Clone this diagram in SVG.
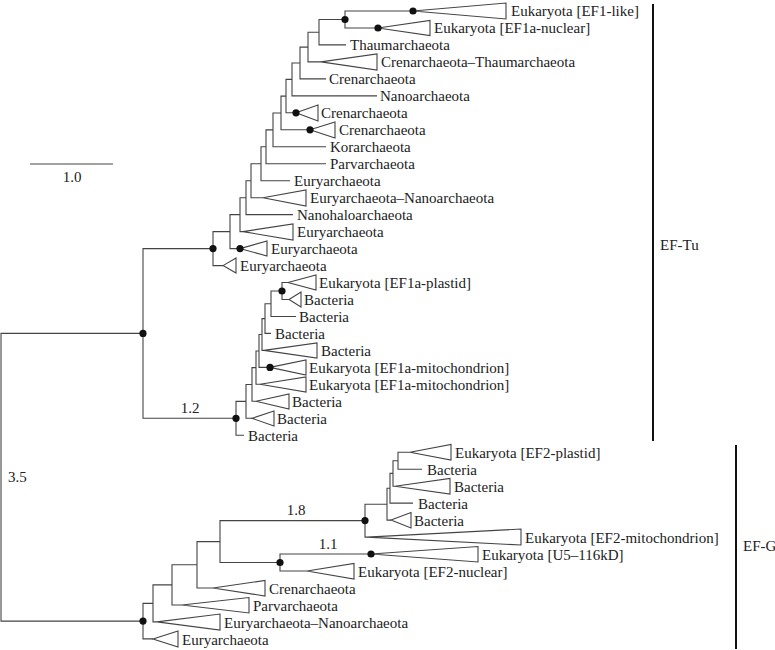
<svg xmlns="http://www.w3.org/2000/svg" width="775" height="650" viewBox="0 0 775 650">
<style>
  .e{fill:none;stroke:#444;stroke-width:1.1}
  .t{fill:#fff;stroke:#444;stroke-width:1.1}
  .d{fill:#111}
  text{font-family:"Liberation Serif","Times New Roman",serif;font-size:15px;fill:#222}
  .bar{stroke:#111;stroke-width:2}
</style>
<rect width="775" height="650" fill="#fff"/>
<g id="scale">
  <line x1="30" y1="164" x2="113" y2="164" class="e"/>
  <text x="72" y="182" text-anchor="middle">1.0</text>
</g>
<g id="connectors">
  <path class="e" d="M413 11H345V28H378"/>
  <path class="e" d="M345 19.5H319V44.9H346"/>
  <path class="e" d="M319 32.2H308V61.9H321"/>
  <path class="e" d="M308 47.1H300V78.9H326"/>
  <path class="e" d="M300 63H292V95.9H377"/>
  <path class="e" d="M292 79.4H286V112.8H296"/>
  <path class="e" d="M286 96.1H281V129.8H310"/>
  <path class="e" d="M281 113H273V146.8H326"/>
  <path class="e" d="M273 129.9H266V163.7H326"/>
  <path class="e" d="M266 146.8H261V180.7H290"/>
  <path class="e" d="M261 163.8H251V197.7H263"/>
  <path class="e" d="M251 180.7H246V214.6H293"/>
  <path class="e" d="M246 197.7H240V231.6H243"/>
  <path class="e" d="M240 214.6H230V248.6H240"/>
  <path class="e" d="M230 231.6H213V265.6H223"/>
  <path class="e" d="M288 282.5H282V299.5H289"/>
  <path class="e" d="M282 291H271V316.5H296"/>
  <path class="e" d="M271 303.7H265V333.4H271"/>
  <path class="e" d="M265 318.6H262V350.4H264"/>
  <path class="e" d="M262 334.5H259V367.4H270"/>
  <path class="e" d="M259 351H256V384.3H260"/>
  <path class="e" d="M256 367.6H252V401.3H256"/>
  <path class="e" d="M252 384.5H246V418.3H252"/>
  <path class="e" d="M246 401.4H236V435.3H244"/>
  <path class="e" d="M213 248.6H143V418.3H236"/>
  <path class="e" d="M410 452.2H398V469.2H422"/>
  <path class="e" d="M398 460.7H393V486.2H395"/>
  <path class="e" d="M393 473.4H390V503.1H413"/>
  <path class="e" d="M390 488.3H387V520.1H391"/>
  <path class="e" d="M387 504.2H365V537.1H367"/>
  <path class="e" d="M371 554H280V571H307"/>
  <path class="e" d="M365 520.6H220V562.5H280"/>
  <path class="e" d="M220 541.6H197V588H213"/>
  <path class="e" d="M197 564.8H172V605H182"/>
  <path class="e" d="M172 584.9H153V621.9H157"/>
  <path class="e" d="M153 603.4H143V638.9H153"/>
  <path class="e" d="M143 333.4H1V621.1H143"/>
</g>
<g id="branch-labels">
  <text x="190" y="413" text-anchor="middle">1.2</text>
  <text x="296" y="515" text-anchor="middle">1.8</text>
  <text x="328" y="549" text-anchor="middle">1.1</text>
  <text x="8" y="482">3.5</text>
</g>
<g id="nodes">
  <circle class="d" cx="345" cy="19.5" r="3.6"/>
  <circle class="d" cx="213" cy="248.6" r="3.6"/>
  <circle class="d" cx="143" cy="333.4" r="3.6"/>
  <circle class="d" cx="282" cy="291" r="3.6"/>
  <circle class="d" cx="236" cy="418.3" r="3.6"/>
  <circle class="d" cx="365" cy="520.6" r="3.6"/>
  <circle class="d" cx="280" cy="562.5" r="3.6"/>
  <circle class="d" cx="143" cy="621.1" r="3.6"/>
</g>
<g id="leaf1"><polygon class="t" points="413,11 506,3 506,19"/><circle class="d" cx="413" cy="11" r="3.6"/><text x="511" y="16">Eukaryota [EF1-like]</text></g>
<g id="leaf2"><polygon class="t" points="378,28 430,20.5 430,35.5"/><circle class="d" cx="378" cy="28" r="3.6"/><text x="434" y="33">Eukaryota [EF1a-nuclear]</text></g>
<g id="leaf3"><text x="350" y="50">Thaumarchaeota</text></g>
<g id="leaf4"><polygon class="t" points="321,61.9 377,54 377,70"/><text x="381" y="67">Crenarchaeota–Thaumarchaeota</text></g>
<g id="leaf5"><text x="329" y="84">Crenarchaeota</text></g>
<g id="leaf6"><text x="380" y="101">Nanoarchaeota</text></g>
<g id="leaf7"><polygon class="t" points="296,112.8 318,105 318,121"/><circle class="d" cx="296" cy="112.8" r="3.6"/><text x="321" y="118">Crenarchaeota</text></g>
<g id="leaf8"><polygon class="t" points="310,129.8 335,122 335,138"/><circle class="d" cx="310" cy="129.8" r="3.6"/><text x="339" y="135">Crenarchaeota</text></g>
<g id="leaf9"><text x="330" y="152">Korarchaeota</text></g>
<g id="leaf10"><text x="330" y="169">Parvarchaeota</text></g>
<g id="leaf11"><text x="294" y="186">Euryarchaeota</text></g>
<g id="leaf12"><polygon class="t" points="263,197.7 306,190 306,206"/><text x="310" y="203">Euryarchaeota–Nanoarchaeota</text></g>
<g id="leaf13"><text x="297" y="220">Nanohaloarchaeota</text></g>
<g id="leaf14"><polygon class="t" points="243,231.6 293,224 293,240"/><text x="297" y="237">Euryarchaeota</text></g>
<g id="leaf15"><polygon class="t" points="240,248.6 267,241 267,256"/><circle class="d" cx="240" cy="248.6" r="3.6"/><text x="271" y="254">Euryarchaeota</text></g>
<g id="leaf16"><polygon class="t" points="223,265.6 236,258 236,273"/><text x="240" y="271">Euryarchaeota</text></g>
<g id="leaf17"><polygon class="t" points="288,282.5 316,275 316,290"/><text x="319" y="288">Eukaryota [EF1a-plastid]</text></g>
<g id="leaf18"><polygon class="t" points="289,299.5 301,292 301,307"/><text x="304" y="305">Bacteria</text></g>
<g id="leaf19"><text x="299" y="322">Bacteria</text></g>
<g id="leaf20"><text x="275" y="339">Bacteria</text></g>
<g id="leaf21"><polygon class="t" points="264,350.4 317,343 317,358"/><text x="321" y="356">Bacteria</text></g>
<g id="leaf22"><polygon class="t" points="270,367.4 306,360 306,375"/><circle class="d" cx="270" cy="367.4" r="3.6"/><text x="309" y="373">Eukaryota [EF1a-mitochondrion]</text></g>
<g id="leaf23"><polygon class="t" points="260,384.3 306,377 306,392"/><text x="309" y="390">Eukaryota [EF1a-mitochondrion]</text></g>
<g id="leaf24"><polygon class="t" points="256,401.3 289,394 289,409"/><text x="292" y="407">Bacteria</text></g>
<g id="leaf25"><polygon class="t" points="252,418.3 274,411 274,426"/><text x="277" y="424">Bacteria</text></g>
<g id="leaf26"><text x="248" y="441">Bacteria</text></g>
<g id="leaf27"><polygon class="t" points="410,452.2 451,444.5 451,460"/><text x="455" y="458">Eukaryota [EF2-plastid]</text></g>
<g id="leaf28"><text x="427" y="475">Bacteria</text></g>
<g id="leaf29"><polygon class="t" points="395,486.2 450,478.5 450,494"/><text x="454" y="492">Bacteria</text></g>
<g id="leaf30"><text x="418" y="509">Bacteria</text></g>
<g id="leaf31"><polygon class="t" points="391,520.1 411,512.5 411,528"/><text x="414" y="526">Bacteria</text></g>
<g id="leaf32"><polygon class="t" points="367,537.1 521,529 521,545"/><text x="525" y="543">Eukaryota [EF2-mitochondrion]</text></g>
<g id="leaf33"><polygon class="t" points="371,554 478,546.5 478,562"/><circle class="d" cx="371" cy="554" r="3.6"/><text x="482" y="560">Eukaryota [U5–116kD]</text></g>
<g id="leaf34"><polygon class="t" points="307,571 354,563.5 354,579"/><text x="358" y="577">Eukaryota [EF2-nuclear]</text></g>
<g id="leaf35"><polygon class="t" points="213,588 265,580.5 265,596"/><text x="269" y="594">Crenarchaeota</text></g>
<g id="leaf36"><polygon class="t" points="182,605 249,597.5 249,613"/><text x="253" y="611">Parvarchaeota</text></g>
<g id="leaf37"><polygon class="t" points="157,621.9 220,614 220,630"/><text x="224" y="628">Euryarchaeota–Nanoarchaeota</text></g>
<g id="leaf38"><polygon class="t" points="153,638.9 178,631 178,647"/><text x="182" y="645">Euryarchaeota</text></g>
<g id="group-EF-Tu"><line class="bar" x1="653" y1="4" x2="653" y2="441"/><text x="660" y="250">EF-Tu</text></g>
<g id="group-EF-G"><line class="bar" x1="736" y1="445" x2="736" y2="649"/><text x="743" y="551">EF-G</text></g>
</svg>
